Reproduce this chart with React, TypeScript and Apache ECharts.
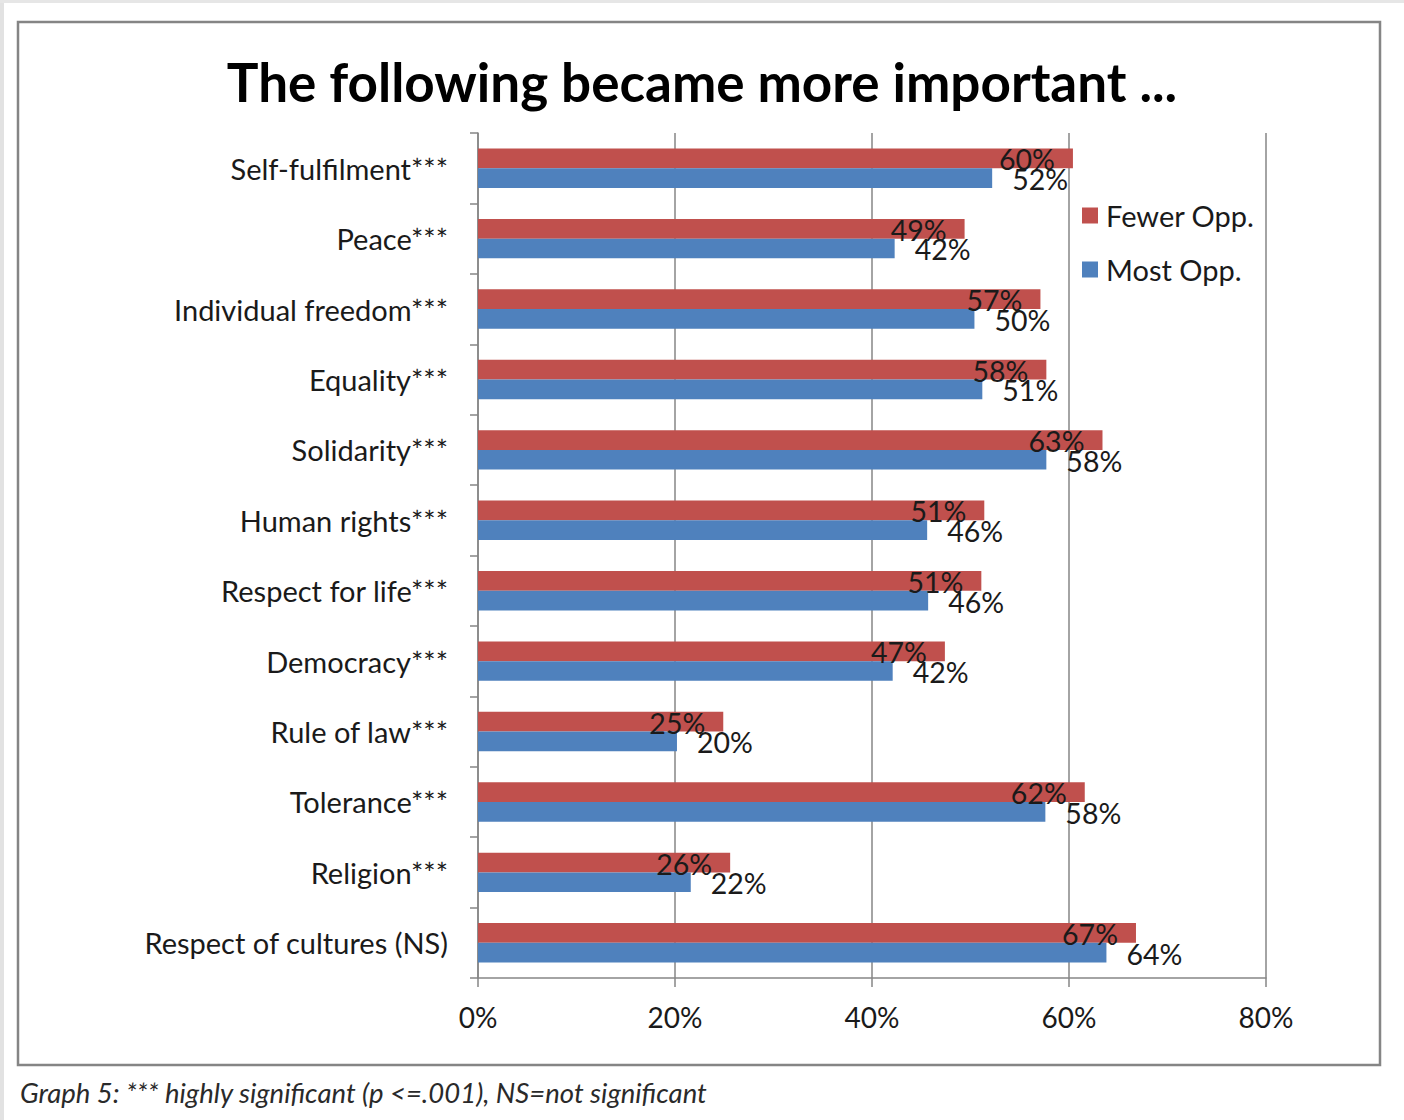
import React, { useEffect, useRef } from "react";
import * as echarts from "echarts";

const categories = [
  "Self-fulfilment***",
  "Peace***",
  "Individual freedom***",
  "Equality***",
  "Solidarity***",
  "Human rights***",
  "Respect for life***",
  "Democracy***",
  "Rule of law***",
  "Tolerance***",
  "Religion***",
  "Respect of cultures (NS)",
];
const fewerOpp = [60.4, 49.4, 57.1, 57.7, 63.4, 51.4, 51.1, 47.4, 24.9, 61.6, 25.6, 66.8];
const mostOpp = [52.2, 42.3, 50.4, 51.2, 57.7, 45.6, 45.7, 42.1, 20.2, 57.6, 21.6, 63.8];
const xTicks = [0, 20, 40, 60, 80];
const seriesNames = ["Fewer Opp.", "Most Opp."];
const titleText = "The following became more important ...";
const footnote = "Graph 5: *** highly significant (p <=.001), NS=not significant";

const FONT = "Lato, 'Open Sans', sans-serif";

export default function App() {
  const ref = useRef<HTMLDivElement>(null);
  useEffect(() => {
    if (!ref.current) return;
    const chart = echarts.init(ref.current, undefined, { renderer: "svg" });
    const fmt = (p: any) => Math.round(p.value) + "%";
    chart.setOption({
      animation: false,
      backgroundColor: "#ffffff",
      textStyle: { fontFamily: FONT },
      title: {
        text: titleText,
        left: "center",
        top: 50,
        textStyle: { fontSize: 53, fontWeight: "bold", color: "#000", fontFamily: FONT },
      },
      legend: {
        data: seriesNames,
        orient: "vertical",
        left: 1082,
        top: 201,
        icon: "rect",
        itemWidth: 16,
        itemHeight: 16,
        itemGap: 25,
        padding: 0,
        textStyle: { fontSize: 29, color: "#1a1a1a", fontFamily: FONT, padding: [0, 0, 0, 3] },
      },
      grid: { left: 478, right: 138, top: 133, bottom: 142, containLabel: false },
      xAxis: {
        type: "value",
        min: 0,
        max: 80,
        interval: 20,
        axisLine: { show: true, lineStyle: { color: "#868686", width: 1.5 } },
        axisTick: { show: true, length: 9, lineStyle: { color: "#868686", width: 1.5 } },
        splitLine: { show: true, lineStyle: { color: "#868686", width: 1.5 } },
        axisLabel: {
          formatter: (v: number) => (xTicks.includes(v) ? v + "%" : ""),
          fontSize: 28,
          color: "#1a1a1a",
          margin: 25,
          fontFamily: FONT,
        },
      },
      yAxis: {
        type: "category",
        data: categories,
        inverse: true,
        axisLine: { show: true, lineStyle: { color: "#868686", width: 1.5 } },
        axisTick: { show: true, length: 8, inside: false, lineStyle: { color: "#868686", width: 1.5 } },
        axisLabel: { fontSize: 29, color: "#1a1a1a", margin: 30, fontFamily: FONT },
      },
      series: [
        {
          name: seriesNames[0],
          type: "bar",
          data: fewerOpp,
          barGap: "0%",
          barCategoryGap: "44%",
          itemStyle: { color: "#C0504D" },
          label: {
            show: true,
            position: "insideRight",
            distance: 18,
            offset: [0, 1],
            formatter: fmt,
            fontSize: 28.5,
            color: "#1a1a1a",
            fontFamily: FONT,
          },
        },
        {
          name: seriesNames[1],
          type: "bar",
          data: mostOpp,
          barGap: "0%",
          barCategoryGap: "44%",
          itemStyle: { color: "#4F81BD" },
          label: {
            show: true,
            position: "right",
            distance: 20,
            offset: [0, 1],
            formatter: fmt,
            fontSize: 28.5,
            color: "#1a1a1a",
            fontFamily: FONT,
          },
        },
      ],
      graphic: [
        { type: "rect", shape: { x: 0, y: 0, width: 4, height: 1120 }, style: { fill: "#e2e2e2" }, silent: true },
        { type: "rect", shape: { x: 0, y: 0, width: 1404, height: 3 }, style: { fill: "#e6e6e6" }, silent: true },
        {
          type: "rect",
          shape: { x: 18, y: 22, width: 1362, height: 1043 },
          style: { fill: "none", stroke: "#858585", lineWidth: 2.5 },
          silent: true,
        },
        {
          type: "text",
          x: 20,
          y: 1092,
          style: {
            text: footnote,
            fontSize: 27.5,
            fontStyle: "italic",
            fill: "#2a2a2a",
            fontFamily: FONT,
            verticalAlign: "middle",
          },
          silent: true,
        },
      ],
    });
    return () => chart.dispose();
  }, []);
  return (
    <div
      ref={ref}
      style={{ position: "absolute", left: 0, top: 0, width: 1404, height: 1120 }}
    />
  );
}
